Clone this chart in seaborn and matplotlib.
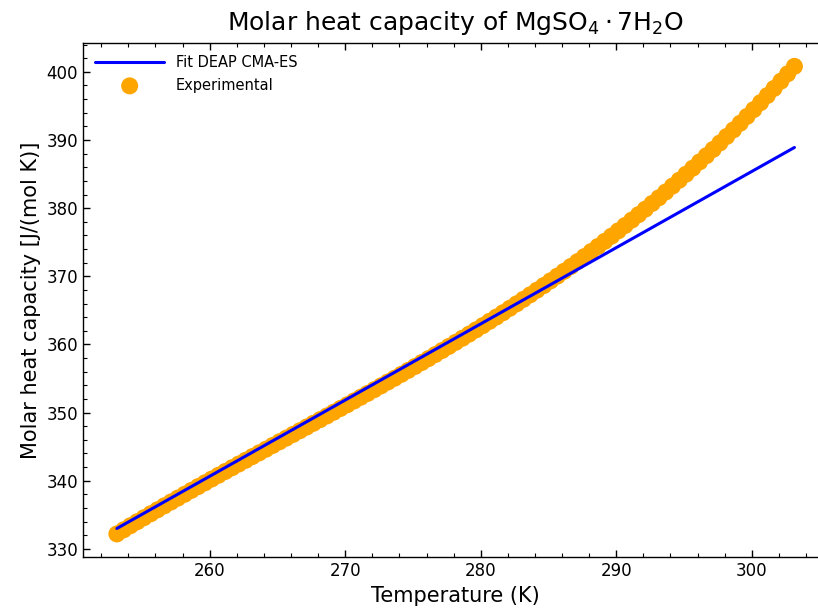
import matplotlib
matplotlib.use("Agg")
import matplotlib.pyplot as plt
from matplotlib.ticker import MultipleLocator
import seaborn as sns
import pandas as pd

# Experimental data (temperature in K, molar heat capacity in J/(mol K))
exp_T = [253.15, 253.65, 254.15, 254.65, 255.15, 255.65, 256.15, 256.65, 257.15, 257.65,
         258.15, 258.65, 259.15, 259.65, 260.15, 260.65, 261.15, 261.65, 262.15, 262.65,
         263.15, 263.65, 264.15, 264.65, 265.15, 265.65, 266.15, 266.65, 267.15, 267.65,
         268.15, 268.65, 269.15, 269.65, 270.15, 270.65, 271.15, 271.65, 272.15, 272.65,
         273.15, 273.65, 274.15, 274.65, 275.15, 275.65, 276.15, 276.65, 277.15, 277.65,
         278.15, 278.65, 279.15, 279.65, 280.15, 280.65, 281.15, 281.65, 282.15, 282.65,
         283.15, 283.65, 284.15, 284.65, 285.15, 285.65, 286.15, 286.65, 287.15, 287.65,
         288.15, 288.65, 289.15, 289.65, 290.15, 290.65, 291.15, 291.65, 292.15, 292.65,
         293.15, 293.65, 294.15, 294.65, 295.15, 295.65, 296.15, 296.65, 297.15, 297.65,
         298.15, 298.65, 299.15, 299.65, 300.15, 300.65, 301.15, 301.65, 302.15, 302.65,
         303.15]
exp_cp = [332.20, 332.80, 333.40, 333.99, 334.58, 335.16, 335.74, 336.32, 336.89, 337.46,
          338.02, 338.59, 339.15, 339.70, 340.26, 340.81, 341.36, 341.91, 342.46, 343.00,
          343.55, 344.09, 344.63, 345.18, 345.72, 346.26, 346.80, 347.34, 347.88, 348.43,
          348.97, 349.51, 350.06, 350.61, 351.15, 351.71, 352.26, 352.81, 353.37, 353.93,
          354.49, 355.05, 355.62, 356.19, 356.77, 357.35, 357.93, 358.52, 359.11, 359.71,
          360.31, 360.91, 361.52, 362.14, 362.76, 363.39, 364.02, 364.66, 365.31, 365.96,
          366.62, 367.28, 367.96, 368.64, 369.33, 370.02, 370.73, 371.44, 372.16, 372.89,
          373.63, 374.37, 375.13, 375.89, 376.67, 377.45, 378.25, 379.05, 379.86, 380.69,
          381.52, 382.37, 383.23, 384.10, 384.98, 385.87, 386.78, 387.69, 388.62, 389.56,
          390.52, 391.48, 392.46, 393.46, 394.46, 395.48, 396.52, 397.57, 398.63, 399.71,
          400.80]

# Fitted model (DEAP CMA-ES)
fit_T = [253.15, 303.15]
fit_cp = [333.0, 388.9]

df_exp = pd.DataFrame({"T": exp_T, "cp": exp_cp})
df_fit = pd.DataFrame({"T": fit_T, "cp": fit_cp})

sns.set_style("ticks")
plt.rcParams["font.family"] = ["DejaVu Sans"]
plt.rcParams["text.color"] = "black"
plt.rcParams["axes.labelcolor"] = "black"
plt.rcParams["xtick.color"] = "black"
plt.rcParams["ytick.color"] = "black"

fig = plt.figure(figsize=(8.18, 6.08), dpi=100)
ax = fig.add_axes([83 / 818, 1 - 557.3 / 608, 735 / 818, (557.3 - 43) / 608])

sns.lineplot(data=df_fit, x="T", y="cp", ax=ax, color="blue", linewidth=2.2,
             label="Fit DEAP CMA-ES", zorder=3)
sns.scatterplot(data=df_exp, x="T", y="cp", ax=ax, color="orange", s=150,
                linewidth=0, edgecolor="none", label="Experimental", zorder=2)

ax.set_xlim(250.65, 304.89)
ax.set_ylim(328.77, 404.23)

ax.xaxis.set_major_locator(MultipleLocator(10))
ax.xaxis.set_minor_locator(MultipleLocator(2))
ax.yaxis.set_major_locator(MultipleLocator(10))
ax.yaxis.set_minor_locator(MultipleLocator(2))
ax.tick_params(which="both", direction="in", top=True, right=False, colors="black",
               labelsize=12)
ax.tick_params(which="major", length=5, width=1)
ax.tick_params(which="minor", length=3, width=0.8)
for sp in ax.spines.values():
    sp.set_color("black")
    sp.set_linewidth(1)
ax.spines["right"].set_visible(False)

ax.set_xlabel("Temperature (K)", fontsize=15)
ax.set_ylabel("Molar heat capacity [J/(mol K)]", fontsize=15)
ax.set_title(r"Molar heat capacity of $\mathrm{MgSO_4\cdot 7H_2O}$", fontsize=18, pad=9)
ax.title.set_x((455.5 - 83) / 735)
ax.xaxis.label.set_x((455.5 - 83) / 735)

leg = ax.legend(loc="upper left", frameon=False, fontsize=10.5, handlelength=4.7,
                borderaxespad=0.45)
for t in leg.get_texts():
    t.set_color("black")

fig.savefig("out.png", dpi=100)
